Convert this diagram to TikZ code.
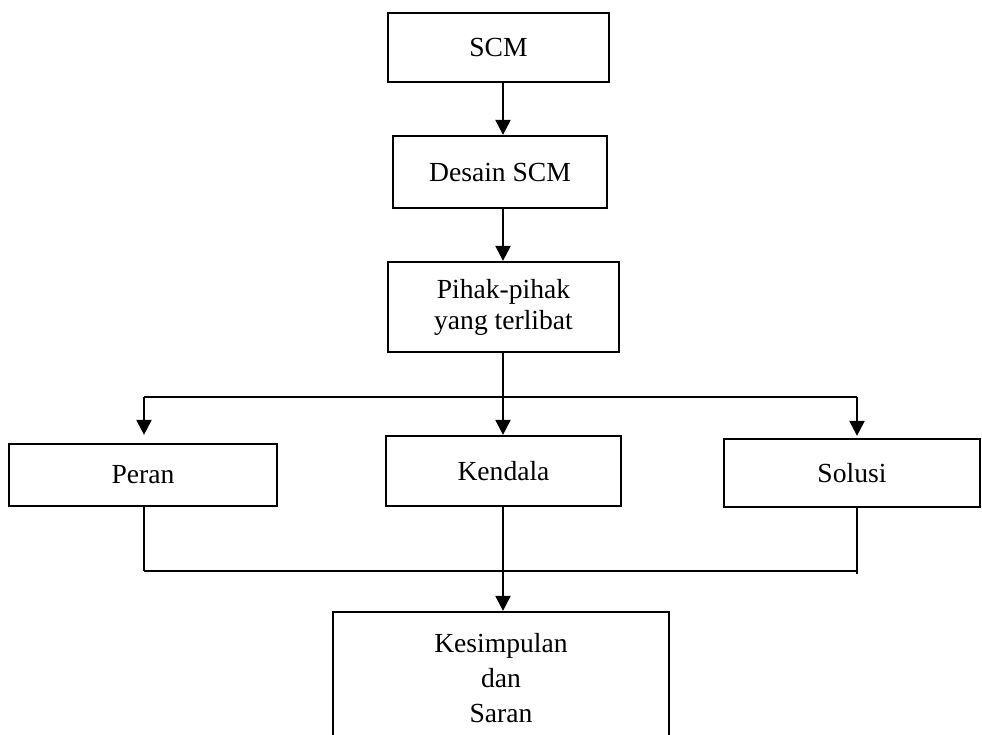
\documentclass[tikz,border=0pt]{standalone}
\usepackage{fontspec}
\setmainfont{Liberation Serif}
\usetikzlibrary{arrows.meta}
\begin{document}
\begin{tikzpicture}[x=1pt,y=-1pt,
  box/.style={draw, line width=2.3pt, inner sep=0pt, align=center, font=\fontsize{27.6}{31}\selectfont},
  arr/.style={line width=2.3pt, -{Triangle[length=15pt,width=15pt]}},
  ln/.style={line width=2.3pt},
  thin/.style={line width=1.6pt}]
\clip (0,0) rectangle (982,734);
\node[box, minimum width=221pt, minimum height=69pt] (scm) at (498.5,47.5) {SCM};
\node[box, minimum width=214pt, minimum height=72pt] (desain) at (500,172) {Desain SCM};
\node[box, minimum width=231pt, minimum height=90pt] (pihak) at (503.5,307) {Pihak-pihak\\yang terlibat};
\node[box, minimum width=268pt, minimum height=62pt] (peran) at (143,475) {Peran};
\node[box, minimum width=235pt, minimum height=70pt] (kendala) at (503.5,471) {Kendala};
\node[box, minimum width=256pt, minimum height=68pt] (solusi) at (852,473) {Solusi};
\node[box, minimum width=336pt, minimum height=132pt, font=\fontsize{27.6}{35}\selectfont] (kes) at (501,678) {Kesimpulan\\dan\\Saran};
\coordinate (t) at (503,0);
\coordinate (bl) at (144,397);
\coordinate (br) at (857,397);
\coordinate (cl) at (144,571);
\coordinate (cr) at (857,571);
\coordinate (crend) at (857,574);
\draw[arr] (scm.south -| t) -- (desain.north -| t);
\draw[arr] (desain.south -| t) -- (pihak.north -| t);
\draw[arr] (pihak.south -| t) -- (kendala.north -| t);
\draw[ln] (bl) -- (br);
\draw[arr, shorten >=8pt] (bl) -- (peran.north -| bl);
\draw[arr, shorten >=2pt] (br) -- (solusi.north -| br);
\draw[thin] (peran.south -| bl) -- (cl);
\draw[ln] (cl) -- (cr);
\draw[thin] (solusi.south -| br) -- (crend);
\draw[arr] (kendala.south -| t) -- (kes.north -| t);
\end{tikzpicture}
\end{document}
